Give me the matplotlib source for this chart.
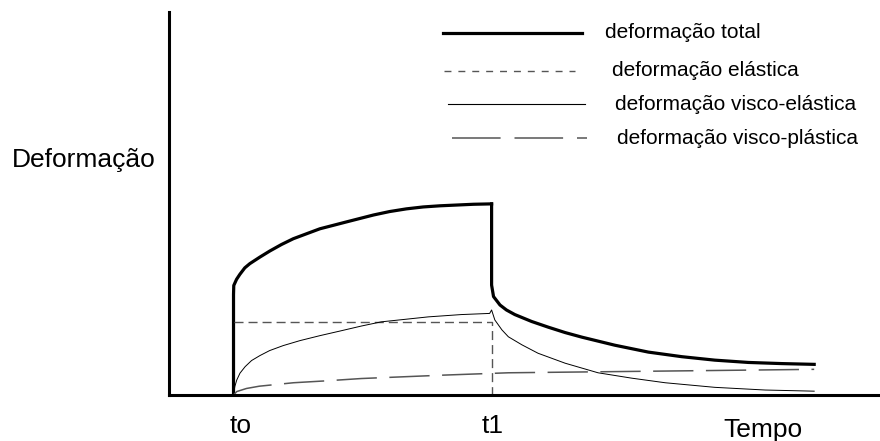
import matplotlib
matplotlib.use("Agg")
import matplotlib.pyplot as plt
from matplotlib.lines import Line2D
from matplotlib.transforms import blended_transform_factory

plt.rcParams['font.family'] = ['Liberation Sans', 'DejaVu Sans']
plt.rcParams['lines.scale_dashes'] = False

# ---- data (time units: to = 1, t1 = 5) ----
t_to = 1.0
t_t1 = 5.0
tick_pos = [t_to, t_t1]
tick_labels = ['to', 't1']

# total deformation: loading branch
total_load_t = [1.0, 1.0, 1.004, 1.047, 1.098, 1.175, 1.253, 1.408, 1.563, 1.744, 1.926,
                2.132, 2.339, 2.546, 2.752, 2.984, 3.17, 3.42, 3.68, 3.94, 4.20,
                4.46, 4.72, 5.0]
total_load_y = [0.0, 2.62, 2.86, 3.02, 3.15, 3.32, 3.43, 3.60, 3.76, 3.93, 4.08,
                4.21, 4.34, 4.43, 4.52, 4.62, 4.70, 4.79, 4.86, 4.91, 4.94,
                4.96, 4.98, 4.99]
# total deformation: unloading branch
total_unl_t = [5.0, 5.0, 5.03, 5.13, 5.23, 5.36, 5.62, 5.88, 6.14, 6.40, 6.91,
               7.43, 7.95, 8.46, 8.98, 9.50, 10.0]
total_unl_y = [4.99, 2.87, 2.57, 2.35, 2.22, 2.10, 1.92, 1.77, 1.63, 1.51, 1.30,
               1.12, 1.00, 0.91, 0.85, 0.82, 0.80]

# elastic deformation
elastic_t = [1.0, 5.0, 5.0]
elastic_y = [1.90, 1.90, 0.0]

# visco-elastic deformation
ve_t = [1.0, 1.02, 1.05, 1.10, 1.18, 1.28, 1.41, 1.56, 1.77, 2.03, 2.34, 2.65,
        2.98, 3.29, 4.02, 4.53, 4.97,
        5.0, 5.05, 5.16, 5.26, 5.47, 5.72, 6.14, 6.65, 7.17, 7.69, 8.46, 9.24, 10.0]
ve_y = [0.0, 0.22, 0.39, 0.57, 0.74, 0.90, 1.03, 1.16, 1.29, 1.42, 1.55, 1.67,
        1.80, 1.91, 2.04, 2.10, 2.13,
        2.22, 1.96, 1.70, 1.52, 1.31, 1.09, 0.83, 0.58, 0.44, 0.32, 0.20, 0.13, 0.10]

# visco-plastic deformation
vp_t = [1.0, 1.05, 1.2, 1.4, 1.93, 2.44, 2.98, 4.27, 5.26, 7.94, 10.0]
vp_y = [0.0, 0.09, 0.17, 0.23, 0.32, 0.37, 0.43, 0.52, 0.58, 0.63, 0.67]

legend_labels = ['deformação total', 'deformação elástica',
                 'deformação visco-elástica', 'deformação visco-plástica']

# ---- figure ----
W, H = 880, 441
fig = plt.figure(figsize=(W / 100, H / 100), dpi=100)
ax = fig.add_axes([169 / W, (H - 395) / H, (W - 169) / W, (395 - 12) / H])
ax.set_xlim(0, 11.02)
ax.set_ylim(0, 10)

gray = '#555555'
ax.plot(total_load_t, total_load_y, color='black', lw=2.3, solid_joinstyle='round')
ax.plot(total_unl_t, total_unl_y, color='black', lw=2.3, solid_joinstyle='round')
ax.plot(elastic_t, elastic_y, color=gray, lw=1.0, dashes=(6.5, 3.6))
ax.plot(ve_t, ve_y, color='black', lw=0.7)
ax.plot(vp_t, vp_y, color=gray, lw=1.1, dashes=(29, 9))

for s in ['top', 'right']:
    ax.spines[s].set_visible(False)
for s in ['left', 'bottom']:
    ax.spines[s].set_linewidth(2.2)
ax.set_yticks([])
ax.set_xticks([])

# time markers (to, t1) as labels under the axis
tick_dx = [7, 1]
for tp, lab, dx in zip(tick_pos, tick_labels, tick_dx):
    ax.annotate(lab, xy=(tp, 0), xycoords='data', xytext=(dx * 0.72, -22),
                textcoords='offset points', fontsize=19, ha='center', va='center',
                annotation_clip=False)

trans = blended_transform_factory(ax.transData, fig.transFigure)
ax.text(9.2, 1 - 430 / H, 'Tempo', transform=trans, fontsize=19,
        ha='center', va='center')
fig.text(84 / W, 1 - 160 / H, 'Deformação', fontsize=19, ha='center', va='center')

# ---- manual legend ----
leg_rows = [33, 71, 104, 138]
leg_line_x = [(443, 582), (444, 575), (448, 585), (452, 587)]
leg_text_x = [605, 612, 615, 617]
leg_styles = [dict(color='black', lw=2.3),
              dict(color=gray, lw=1.0, dashes=(5, 5)),
              dict(color='black', lw=0.8),
              dict(color=gray, lw=1.1, dashes=(35, 10))]
for yy, (x0, x1), tx, st, lab in zip(leg_rows, leg_line_x, leg_text_x, leg_styles, legend_labels):
    fy = 1 - yy / H
    fig.add_artist(Line2D([x0 / W, x1 / W], [fy, fy], transform=fig.transFigure, **st))
    fig.text(tx / W, fy, lab, fontsize=15, ha='left', va='center')

fig.savefig('out.png', dpi=100)
